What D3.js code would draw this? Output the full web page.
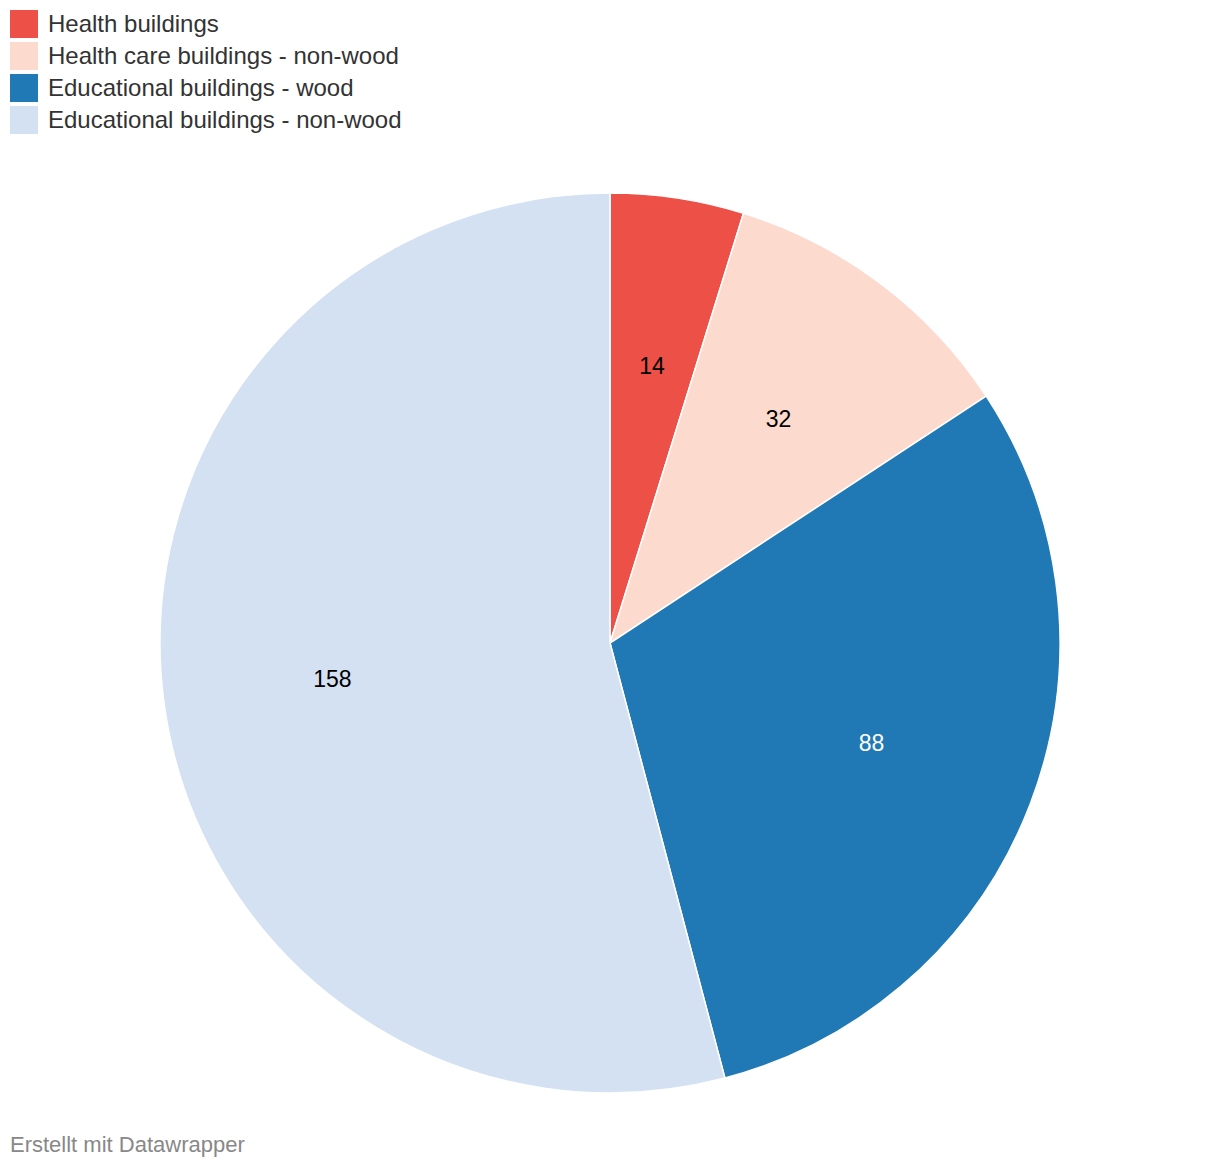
<!DOCTYPE html>
<html>
<head>
<meta charset="utf-8">
<script src="https://cdn.jsdelivr.net/npm/d3@7"></script>
<style>
  body { margin: 0; background: #fff; font-family: "Liberation Sans", Arial, sans-serif; }
</style>
</head>
<body>
<div id="chart"></div>
<script>
var categories = ['Health buildings', 'Health care buildings - non-wood', 'Educational buildings - wood', 'Educational buildings - non-wood'];
var values = [14, 32, 88, 158];
var colors = ['#ec5046', '#fcdace', '#2079b4', '#d3e1f3'];
var labelColors = ['#000', '#000', '#fff', '#000'];

var width = 1220,
    height = 1168,
    cx = 610,
    cy = 643,
    radius = 450,
    labelRadius = 280;

var svg = d3.select('#chart')
  .append('svg')
  .attr('width', width)
  .attr('height', height);

// legend
var legend = svg.append('g').attr('transform', 'translate(10, 10)');
var rows = legend.selectAll('g')
  .data(categories)
  .enter()
  .append('g')
  .attr('transform', function(d, i) { return 'translate(0,' + (i * 32) + ')'; });

rows.append('rect')
  .attr('width', 28)
  .attr('height', 28)
  .style('fill', function(d, i) { return colors[i]; });

rows.append('text')
  .attr('x', 38)
  .attr('y', 14)
  .attr('dy', '0.35em')
  .attr('font-size', '24px')
  .attr('fill', '#333')
  .text(function(d) { return d; });

// pie
var pie = d3.pie().sort(null).value(function(d) { return d; });
var arcs = pie(values);
var arc = d3.arc().innerRadius(0).outerRadius(radius);
var labelArc = d3.arc().innerRadius(labelRadius).outerRadius(labelRadius);

var g = svg.append('g').attr('transform', 'translate(' + cx + ',' + cy + ')');

g.selectAll('path')
  .data(arcs)
  .enter()
  .append('path')
  .attr('d', arc)
  .style('fill', function(d, i) { return colors[i]; })
  .style('stroke', '#fff')
  .style('stroke-width', 1.5);

g.selectAll('text')
  .data(arcs)
  .enter()
  .append('text')
  .attr('transform', function(d) { return 'translate(' + labelArc.centroid(d) + ')'; })
  .attr('text-anchor', 'middle')
  .attr('dy', '0.35em')
  .attr('font-size', '23px')
  .attr('fill', function(d, i) { return labelColors[i]; })
  .text(function(d) { return d.data; });

// footer
svg.append('text')
  .attr('x', 10)
  .attr('y', 1144)
  .attr('dy', '0.35em')
  .attr('font-size', '22px')
  .attr('fill', '#888')
  .text('Erstellt mit Datawrapper');
</script>
</body>
</html>
